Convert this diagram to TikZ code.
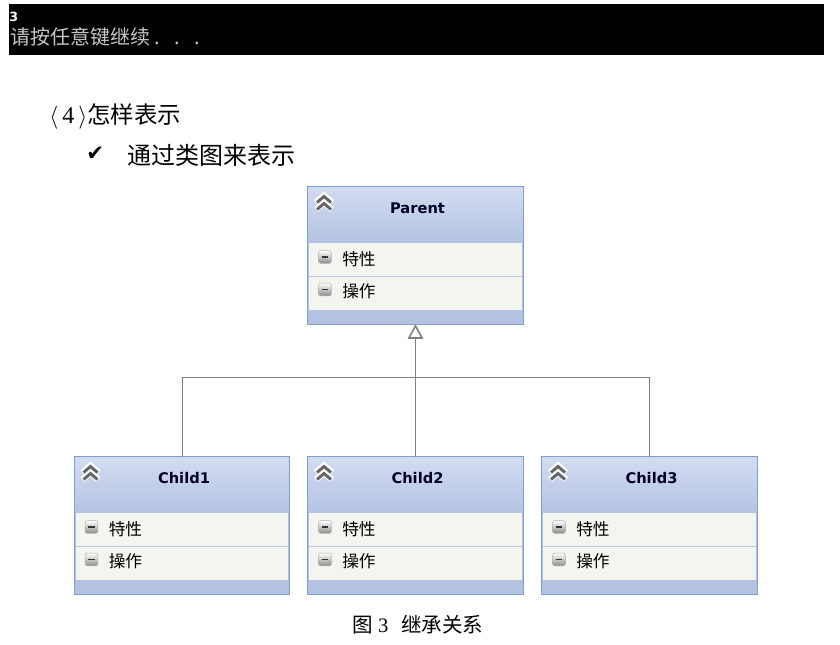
\documentclass[tikz,border=0pt]{standalone}
\usepackage{fontspec}
\setmainfont{Liberation Serif}
\newfontfamily\cjk{Noto Sans CJK SC}
\newfontfamily\symb{DejaVu Sans}
\usetikzlibrary{arrows.meta}
\definecolor{boxedge}{HTML}{7F9FCF}
\definecolor{boxfoot}{HTML}{B4C2E2}
\definecolor{headtop}{HTML}{D2DCF0}
\definecolor{sectfill}{HTML}{F3F5EE}
\definecolor{sectline}{HTML}{B8C6DE}
\tikzset{
  classbody/.style={fill=boxfoot,minimum width=161.5pt,minimum height=102.5pt,inner sep=0pt},
  classedge/.style={draw=boxedge,line width=.8pt},
  classhead/.style={top color=headtop,bottom color=boxfoot,minimum width=160.5pt,minimum height=41.5pt,inner sep=0pt},
  classname/.style={inner sep=0pt,text=black!85!blue,font=\symb\bfseries\fontsize{11}{13}\selectfont},
  sectbox/.style={fill=sectfill,minimum width=159.5pt,minimum height=24.75pt,inner sep=0pt},
  sectname/.style={anchor=west,inner sep=0pt,font=\cjk\fontsize{12.5}{14}\selectfont},
  minusbox/.style={rounded corners=1.5pt,draw=black!30,top color=white,bottom color=black!45,minimum size=9.5pt,inner sep=0pt,text=black!80},
  chevron/.style={line width=2.2pt,draw=black!60,line cap=butt,line join=miter},
  chevronhalo/.style={line width=4.6pt,draw=white},
  inherit/.style={draw=black!50,line width=.75pt},
  inheritarrow/.style={inherit,-{Triangle[open,fill=white,length=11pt,width=11.5pt,line width=1.2pt]}},
  plaintext/.style={anchor=west,inner sep=0pt}
}
\begin{document}
\begin{tikzpicture}[x=.75pt,y=-.75pt]
  \useasboundingbox (0,0) rectangle (840,645);
  % console output
  \node[fill=black,minimum width=611.25pt,minimum height=38.25pt,inner sep=0pt] (console) at (416.5,29.5) {};
  \node[plaintext,text=white,font=\symb\bfseries\fontsize{9.5}{11}\selectfont] (result) at (9,17) {3};
  \node[plaintext,text=black!22,font=\cjk\fontsize{15}{17}\selectfont] (prompt) at (10,37)
    {请按任意键继续\makebox[15pt][l]{\hspace{3pt}.}\makebox[15pt][l]{\hspace{3pt}.}\makebox[15pt][l]{\hspace{3pt}.}};
  % headings
  \node[plaintext,font=\cjk\fontsize{17.6}{20}\selectfont] (heading) at (49,116)
    {{\rmfamily\fontsize{18}{20}\selectfont\makebox[28.5pt][s]{$\langle$\hfil 4\hfil$\rangle$}}怎样表示};
  \node[plaintext,font=\symb\fontsize{16}{18}\selectfont] (tick) at (86,154) {✔};
  \node[plaintext,font=\cjk\fontsize{18}{20}\selectfont] (subheading) at (127,155) {通过类图来表示};
  % class boxes
  \foreach \nm/\lab/\cx/\cy in {parent/Parent/307.5/187,child1/Child1/74/457,child2/Child2/307.5/457,child3/Child3/541.5/457} {
    \begin{scope}[shift={(\cx,\cy)}]
      \node[classbody] (\nm) at (108,68.5) {};
      \node[classhead] (\nm-head) at (108,28.5) {};
      \node[classname] (\nm-title) at (110,21) {\lab};
      \node[sectbox] (\nm-attr) at (108,72.5) {};
      \node[sectbox] (\nm-oper) at (108,106.5) {};
      \draw[sectline,line width=.75pt] (\nm-attr.south west) -- (\nm-attr.south east);
      \draw[classedge] (\nm.north west) rectangle (\nm.south east);
      \node[minusbox] (\nm-attricon) at (17.5,70) {\rule{5pt}{1pt}};
      \node[minusbox] (\nm-opericon) at (17.5,102.5) {\rule{5pt}{1pt}};
      \node[sectname] (\nm-attrname) at (34.5,72) {特性};
      \node[sectname] (\nm-opername) at (34.5,104.5) {操作};
      \foreach \off in {1.5,8.5} {
        \draw[chevronhalo] (8.5,14+\off) -- (16.5,7+\off) -- (24.5,14+\off);
      }
      \foreach \off in {1.5,8.5} {
        \draw[chevron] (9.5,14+\off) -- (16.5,8+\off) -- (23.5,14+\off);
      }
    \end{scope}
  }
  % inheritance
  \coordinate (join) at (415.5,378);
  \draw[inherit] (child1.north) |- (join);
  \draw[inherit] (child3.north) |- (join);
  \draw[inheritarrow] (child2.north) -- (parent.south);
  % caption
  \node[plaintext,font=\cjk\fontsize{15.4}{18}\selectfont] (caption) at (352,625)
    {图{\rmfamily\hspace{4pt}3\hspace{9.5pt}}继承关系};
\end{tikzpicture}
\end{document}
